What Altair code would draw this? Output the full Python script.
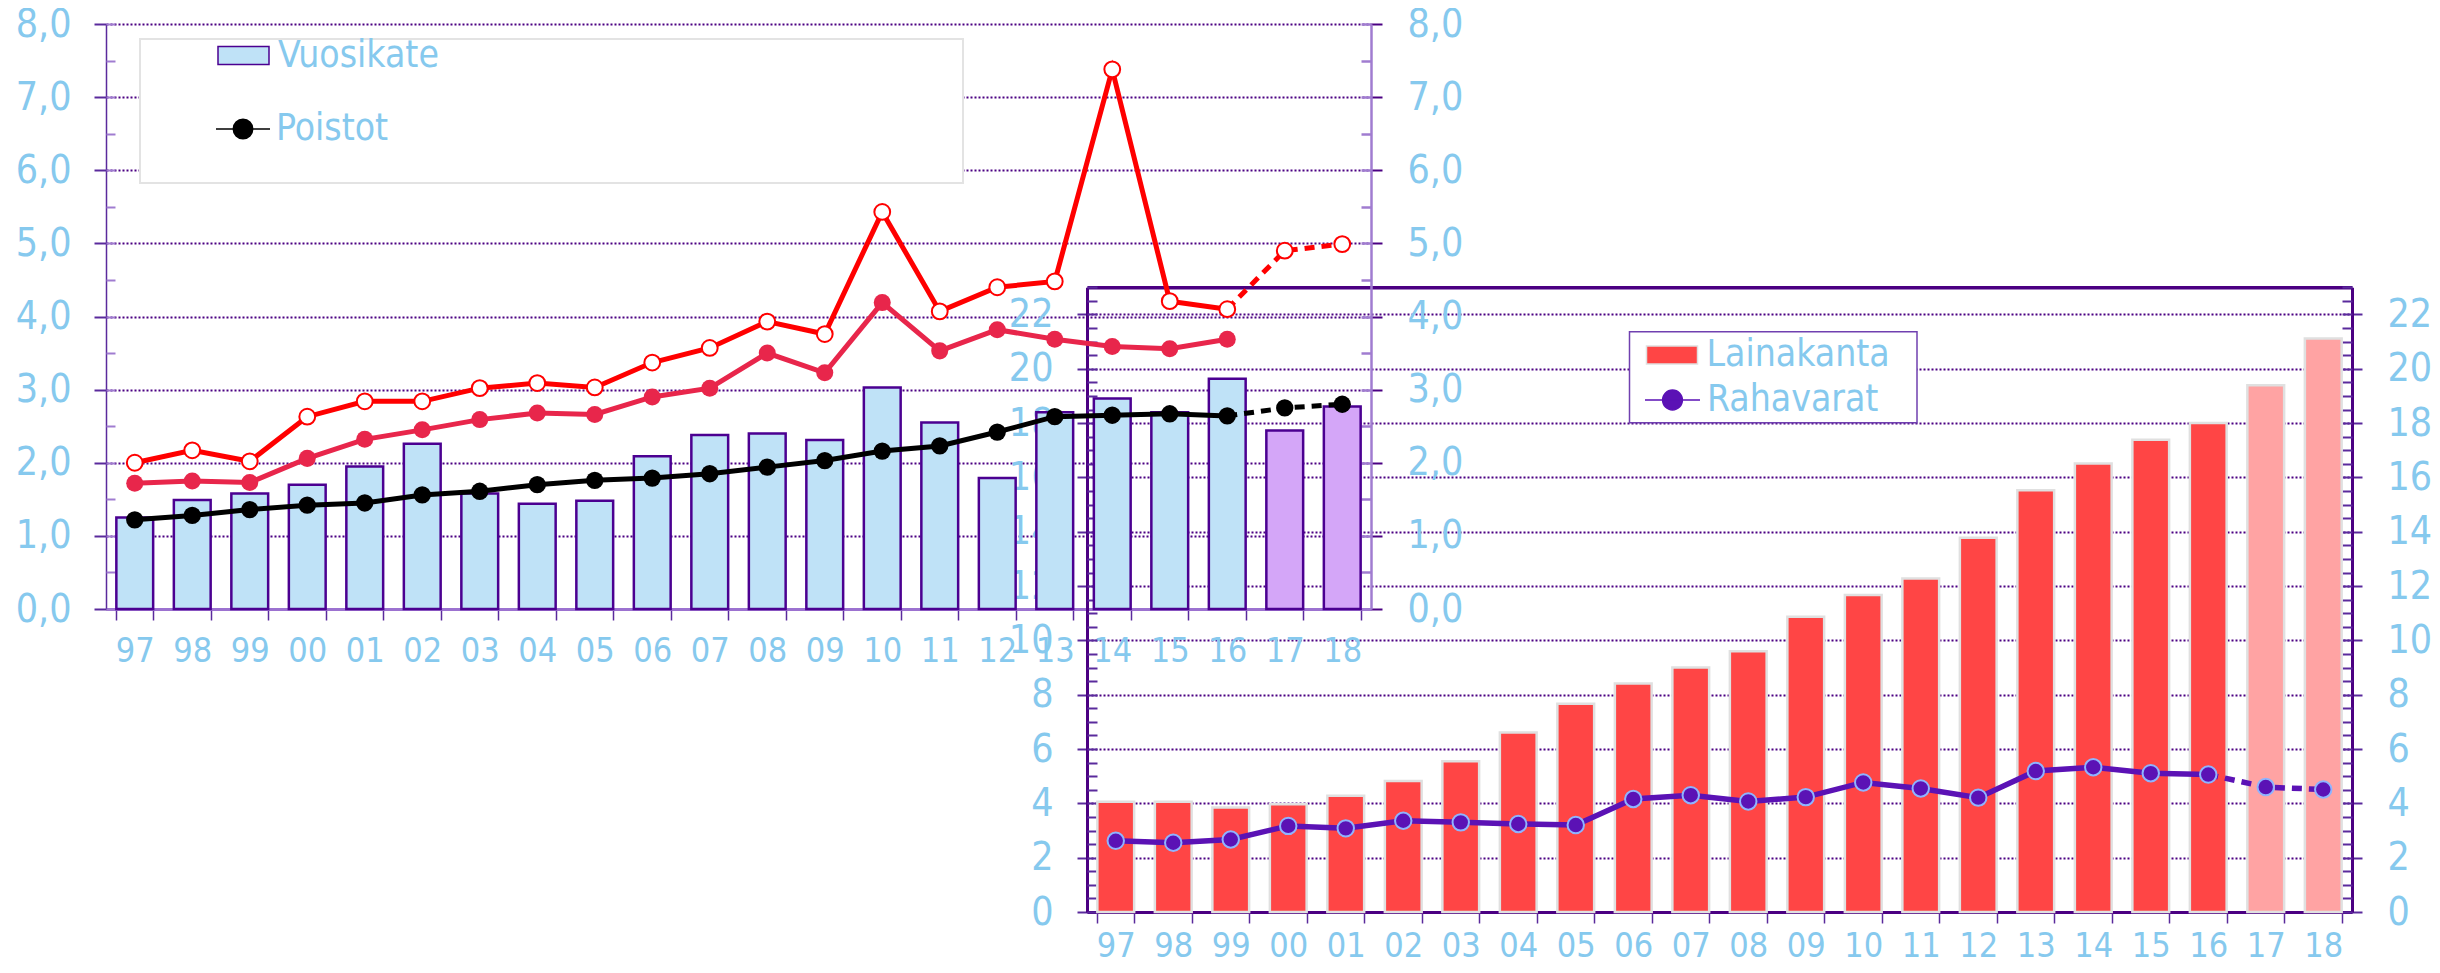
import altair as alt
import pandas as pd

# ---------------- data ----------------
years = ['97', '98', '99', '00', '01', '02', '03', '04', '05', '06', '07',
         '08', '09', '10', '11', '12', '13', '14', '15', '16', '17', '18']
actual_years = years[:-2]
forecast_years = ['17', '18']
dashed_years = ['16', '17', '18']

vuosikate = [1.25, 1.49, 1.58, 1.70, 1.95, 2.26, 1.58, 1.44, 1.48, 2.09, 2.38,
             2.40, 2.31, 3.03, 2.55, 1.79, 2.69, 2.88, 2.69, 3.15, 2.44, 2.77]
sarja_a = [2.00, 2.17, 2.02, 2.63, 2.84, 2.84, 3.02, 3.09, 3.03, 3.37, 3.57,
           3.93, 3.76, 5.43, 4.07, 4.40, 4.48, 7.38, 4.21, 4.10, 4.90, 4.99]
sarja_b = [1.72, 1.75, 1.73, 2.06, 2.32, 2.45, 2.59, 2.68, 2.66, 2.90, 3.02,
           3.50, 3.23, 4.19, 3.53, 3.82, 3.69, 3.59, 3.56, 3.69, None, None]
poistot = [1.22, 1.28, 1.36, 1.42, 1.45, 1.56, 1.61, 1.70, 1.76, 1.79, 1.85,
           1.94, 2.03, 2.16, 2.23, 2.42, 2.63, 2.65, 2.67, 2.64, 2.75, 2.80]
lainakanta = [4.06, 4.06, 3.85, 3.97, 4.28, 4.82, 5.55, 6.61, 7.67, 8.41, 9.00,
              9.60, 10.87, 11.67, 12.28, 13.78, 15.53, 16.51, 17.39, 18.00, 19.39, 21.12]
rahavarat = [2.62, 2.55, 2.67, 3.17, 3.08, 3.36, 3.30, 3.24, 3.20, 4.16, 4.30,
             4.07, 4.23, 4.77, 4.55, 4.21, 5.19, 5.33, 5.11, 5.06, 4.60, 4.51]

y1_ticks = [0, 1, 2, 3, 4, 5, 6, 7, 8]
y1_minor = [i * 0.5 for i in range(17)]
y2_ticks = list(range(0, 23, 2))
y2_minor = [i * 0.5 for i in range(47)]

df = pd.DataFrame({
    'yr': years, 'vuosikate': vuosikate, 'sarja_a': sarja_a, 'sarja_b': sarja_b,
    'poistot': poistot, 'laina': lainakanta, 'raha': rahavarat,
})
box_df = pd.DataFrame({'k': [0]})

# ---------------- layout / style ----------------
W, H = 2424, 957
FONT = 'DejaVu Sans Condensed, DejaVu Sans'
LBL = '#86C9EE'
DARK = '#4B0082'
MID = '#5A2A9C'
LIGHT = '#A07CD0'

X1 = [98, 1363]
Y1 = [601, 16]
X2 = [1079, 2344]
UNIT2 = 27.16
Y2 = [904, 904 - 23 * UNIT2]

sx1 = alt.Scale(type='band', domain=years, range=X1, paddingInner=0.36, paddingOuter=0.18)
sy1 = alt.Scale(domain=[0, 8], range=Y1, nice=False, zero=True)
sx2 = alt.Scale(type='band', domain=years, range=X2, paddingInner=0.36, paddingOuter=0.18)
sy2 = alt.Scale(domain=[0, 23], range=Y2, nice=False, zero=True)

comma = "replace(format(datum.value, '.1f'), '.', ',')"

def yaxis(orient, pos, values, tick, color, labels=True, domain=True,
          domain_color=MID, domain_w=1.5, grid=False, expr=None, pad=24, tick_w=2):
    off = -pos if orient == 'left' else pos - W
    kw = dict(orient=orient, offset=off, values=values, title=None, tickSize=tick,
              tickColor=color, tickWidth=tick_w, labels=labels, domain=domain,
              grid=grid, labelOverlap=False)
    if domain:
        kw.update(domainColor=domain_color, domainWidth=domain_w)
    if labels:
        kw.update(labelFont=FONT, labelFontSize=39, labelColor=LBL, labelPadding=pad)
        if expr:
            kw.update(labelExpr=expr)
        else:
            kw.update(format='d')
    if grid:
        kw.update(gridColor=DARK, gridDash=[2, 2], gridWidth=2)
    return alt.Axis(**kw)

def xaxis(pos, domain_color, domain_w, pad):
    return alt.Axis(orient='bottom', offset=pos - H, title=None, tickBand='extent',
                    tickSize=11, tickColor=MID, tickWidth=1.5, domainColor=domain_color,
                    domainWidth=domain_w, labelAngle=0, labelFont=FONT, labelFontSize=34,
                    labelColor=LBL, labelPadding=pad, grid=False)

ax_y1L = yaxis('left', X1[0], y1_ticks, 12, MID, grid=True, expr=comma, pad=23)
ax_y1Lm = yaxis('left', X1[0] + 9, y1_minor, 9, LIGHT, labels=False, domain=False)
ax_y1R = yaxis('right', X1[1], y1_ticks, 11, DARK, domain_color=LIGHT, domain_w=2.5,
               expr=comma, pad=25)
ax_y1Rm = yaxis('right', X1[1] - 10, y1_minor, 10, LIGHT, labels=False, domain=False, tick_w=2.5)
ax_x1 = xaxis(Y1[0], '#9C72D0', 3, 14)

ax_y2L = yaxis('left', X2[0], y2_ticks, 10, MID, grid=True, domain_color=DARK,
               domain_w=3, pad=24)
ax_y2Lm = yaxis('left', X2[0] + 10, y2_minor, 10, MID, labels=False, domain=False)
ax_y2R = yaxis('right', X2[1], y2_ticks, 10, MID, domain_color=DARK, domain_w=3, pad=25)
ax_y2Rm = yaxis('right', X2[1] - 10, y2_minor, 10, MID, labels=False, domain=False)
ax_x2 = xaxis(Y2[0], DARK, 3, 6)
ax_x2T = alt.Axis(orient='top', offset=-Y2[1], title=None, labels=False, ticks=False,
                  grid=False, domainColor=DARK, domainWidth=3.5)

def X(scale, axis=None):
    return alt.X('yr:N', sort=years, scale=scale, axis=axis)

def Y(field, scale, axis=None):
    return alt.Y(f'{field}:Q', scale=scale, axis=axis)

in_actual = alt.FieldOneOfPredicate(field='yr', oneOf=actual_years)
in_fc = alt.FieldOneOfPredicate(field='yr', oneOf=forecast_years)
in_dash = alt.FieldOneOfPredicate(field='yr', oneOf=dashed_years)

def legend(x, y, shape, size, offset, **kw):
    return alt.Legend(orient='none', legendX=x, legendY=y, title=None, symbolType=shape,
                      symbolSize=size, labelOffset=offset, labelFont=FONT,
                      labelFontSize=37, labelColor=LBL, labelLimit=600, padding=0, **kw)

RECT = 'M-1,-0.35H1V0.35H-1Z'
LINEDOT = 'M-1,0H1M-0.36,0A0.36,0.36,0,1,0,0.36,0A0.36,0.36,0,1,0,-0.36,0Z'

# ---------------- chart 1 ----------------
base1 = alt.Chart(df)

box1 = alt.Chart(box_df).mark_rect(fill='white', stroke='#E3E3E3', strokeWidth=2).encode(
    x=alt.value(132), x2=alt.value(955), y=alt.value(31), y2=alt.value(175))

bars1 = base1.transform_filter(in_actual).transform_calculate(lbl="'Vuosikate'").mark_bar(
    stroke='#4B0091', strokeWidth=2.5).encode(
    x=X(sx1, ax_x1), y=Y('vuosikate', sy1, ax_y1L),
    fill=alt.Fill('lbl:N', scale=alt.Scale(domain=['Vuosikate'], range=['#BFE2F7']),
                  legend=legend(209, 21, RECT, 2601, 8, symbolStrokeColor='#4B0091')))
bars1f = base1.transform_filter(in_fc).mark_bar(
    fill='#D4A6F8', stroke='#4B0091', strokeWidth=2.5).encode(
    x=X(sx1), y=Y('vuosikate', sy1, ax_y1Lm))

red_solid = base1.transform_filter(in_actual).mark_line(color='#FF0000', strokeWidth=5).encode(
    x=X(sx1), y=Y('sarja_a', sy1, ax_y1R))
red_dash = base1.transform_filter(in_dash).mark_line(
    color='#FF0000', strokeWidth=5, strokeDash=[10, 7]).encode(
    x=X(sx1), y=Y('sarja_a', sy1, ax_y1Rm))
crim_line = base1.mark_line(color='#E8264B', strokeWidth=5).encode(
    x=X(sx1), y=Y('sarja_b', sy1))
blk_solid = base1.transform_filter(in_actual).transform_calculate(lbl="'Poistot'").mark_line(
    strokeWidth=5).encode(
    x=X(sx1), y=Y('poistot', sy1),
    stroke=alt.Stroke('lbl:N', scale=alt.Scale(domain=['Poistot'], range=['black']),
                      legend=legend(207, 93, LINEDOT, 2916, 5, symbolFillColor='black')))
blk_dash = base1.transform_filter(in_dash).mark_line(
    color='black', strokeWidth=5, strokeDash=[10, 7]).encode(
    x=X(sx1), y=Y('poistot', sy1))
red_pts = base1.mark_point(filled=True, fill='white', stroke='#FF0000', strokeWidth=2,
                           size=250, opacity=1).encode(x=X(sx1), y=Y('sarja_a', sy1))
crim_pts = base1.mark_point(filled=True, color='#E8264B', size=290, opacity=1).encode(
    x=X(sx1), y=Y('sarja_b', sy1))
blk_pts = base1.mark_point(filled=True, color='black', size=300, opacity=1).encode(
    x=X(sx1), y=Y('poistot', sy1))

chart1 = alt.layer(box1, bars1, bars1f, red_solid, red_dash, crim_line, blk_solid, blk_dash,
                   red_pts, crim_pts, blk_pts).resolve_scale(
    x='shared', y='shared').resolve_axis(x='independent', y='independent')

# ---------------- chart 2 ----------------
base2 = alt.Chart(df)

box2 = alt.Chart(box_df).mark_rect(fill='white', stroke='#7040B0', strokeWidth=1.5).encode(
    x=alt.value(1621.5), x2=alt.value(1909), y=alt.value(323.7), y2=alt.value(414.7))

bars2 = base2.transform_filter(in_actual).transform_calculate(lbl="'Lainakanta'").mark_bar(
    stroke='#E0E0E0', strokeWidth=2.5).encode(
    x=X(sx2, ax_x2), y=Y('laina', sy2, ax_y2L),
    fill=alt.Fill('lbl:N', scale=alt.Scale(domain=['Lainakanta'], range=['#FF4545']),
                  legend=legend(1637.5, 320.5, RECT, 2601, 8, symbolStrokeColor='#E0E0E0')))
bars2f = base2.transform_filter(in_fc).mark_bar(
    fill='#FFA3A3', stroke='#E0E0E0', strokeWidth=2.5).encode(
    x=X(sx2, ax_x2T), y=Y('laina', sy2, ax_y2Lm))

pur_solid = base2.transform_filter(in_actual).transform_calculate(lbl="'Rahavarat'").mark_line(
    strokeWidth=5.5).encode(
    x=X(sx2), y=Y('raha', sy2, ax_y2R),
    stroke=alt.Stroke('lbl:N', scale=alt.Scale(domain=['Rahavarat'], range=['#5B12B5']),
                      legend=legend(1636, 363.5, LINEDOT, 3025, 6, symbolFillColor='#5B12B5')))
pur_dash = base2.transform_filter(in_dash).mark_line(
    color='#5B12B5', strokeWidth=5.5, strokeDash=[10, 7]).encode(
    x=X(sx2), y=Y('raha', sy2, ax_y2Rm))
pur_pts = base2.mark_point(filled=True, fill='#5B12B5', stroke='#8FB4FF', strokeWidth=2,
                           size=270, opacity=1).encode(x=X(sx2), y=Y('raha', sy2))

chart2 = alt.layer(box2, bars2, bars2f, pur_solid, pur_dash, pur_pts).resolve_scale(
    x='shared', y='shared').resolve_axis(x='independent', y='independent')

# ---------------- combine ----------------
chart = alt.layer(chart1, chart2).resolve_scale(
    x='independent', y='independent', fill='independent', stroke='independent'
).resolve_axis(x='independent', y='independent').resolve_legend(
    fill='independent', stroke='independent'
).properties(
    width=W, height=H, padding=0, background='white',
    autosize=alt.AutoSizeParams(type='none')
).configure_view(stroke=None)

chart.save('out.html', embed_options={'renderer': 'svg', 'actions': False})
